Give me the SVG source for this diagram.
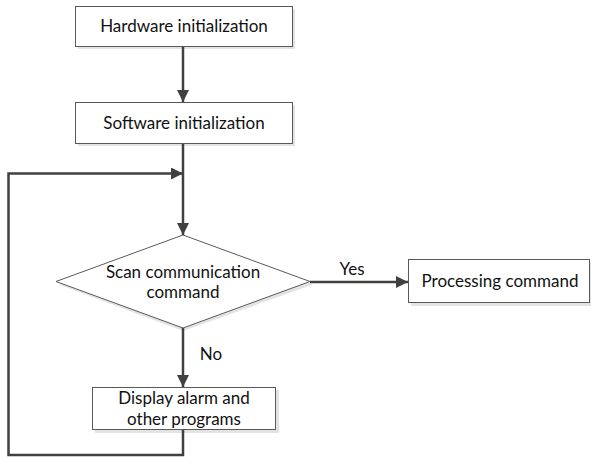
<svg xmlns="http://www.w3.org/2000/svg" width="591" height="458" viewBox="0 0 591 458">
  <defs>
    <style>
      .box { fill: #ffffff; stroke: #595959; stroke-width: 1; }
      .shadow { fill: #e3e3e3; stroke: none; }
      .lbl { font-family: Lato, "Open Sans", "Liberation Sans", sans-serif; font-size: 17px; fill: #111111; text-anchor: middle; }
      .edge { fill: none; stroke: #404040; stroke-width: 2.5; }
    </style>
    <marker id="arrow" viewBox="0 0 12 12" refX="12" refY="6" markerWidth="12" markerHeight="12" markerUnits="userSpaceOnUse" orient="auto">
      <path d="M0,0 L12,6 L0,12 Z" fill="#404040"/>
    </marker>
  </defs>
  <rect width="591" height="458" fill="#ffffff"/>

  <g id="hardware-init">
    <rect class="shadow" x="78" y="9" width="217" height="40"/>
    <rect class="box" x="75.5" y="6.5" width="217" height="40"/>
    <text class="lbl" x="184" y="32">Hardware initialization</text>
  </g>

  <g id="software-init">
    <rect class="shadow" x="78" y="105" width="217" height="41"/>
    <rect class="box" x="75.5" y="102.5" width="217" height="41"/>
    <text class="lbl" x="184" y="129">Software initialization</text>
  </g>

  <g id="scan-decision">
    <polygon class="shadow" points="183,238 313,284.5 183,331 59,284.5"/>
    <polygon class="box" points="183,235 310,281.5 183,328 56,281.5"/>
    <text class="lbl" x="183" y="277.5">Scan communication</text>
    <text class="lbl" x="183" y="298">command</text>
  </g>

  <g id="processing">
    <rect class="shadow" x="411" y="262" width="180" height="44"/>
    <rect class="box" x="408.5" y="259.5" width="181" height="43"/>
    <text class="lbl" x="500" y="287">Processing command</text>
  </g>

  <g id="display-alarm">
    <rect class="shadow" x="95" y="390" width="184" height="43"/>
    <rect class="box" x="92.5" y="387.5" width="183" height="42"/>
    <text class="lbl" x="184" y="404">Display alarm and</text>
    <text class="lbl" x="184" y="424.5">other programs</text>
  </g>

  <g id="connectors">
    <line class="edge" x1="183" y1="47" x2="183" y2="102" marker-end="url(#arrow)"/>
    <line class="edge" x1="183" y1="144" x2="183" y2="235" marker-end="url(#arrow)"/>
    <line class="edge" x1="310" y1="282" x2="408" y2="282" marker-end="url(#arrow)"/>
    <line class="edge" x1="183" y1="328" x2="183" y2="387" marker-end="url(#arrow)"/>
    <polyline class="edge" points="183,430 183,455 8.5,455 8.5,173.5 183,173.5" marker-end="url(#arrow)"/>
    <text class="lbl" x="352" y="275">Yes</text>
    <text class="lbl" x="211" y="360">No</text>
  </g>
</svg>
